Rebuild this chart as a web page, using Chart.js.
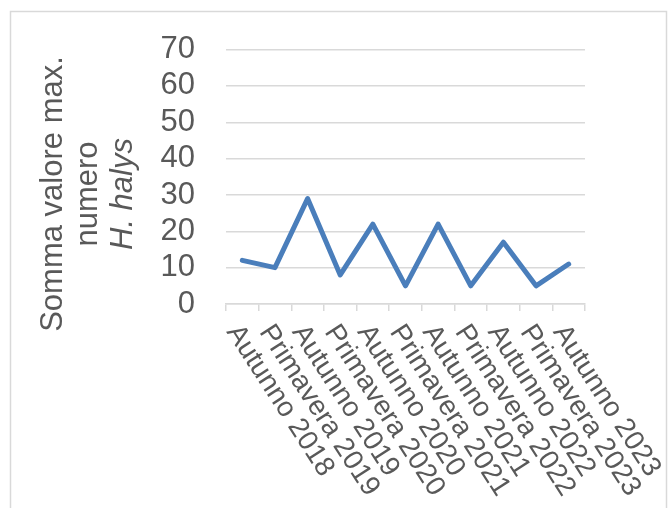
<!DOCTYPE html>
<html>
<head>
<meta charset="utf-8">
<script src="https://cdn.jsdelivr.net/npm/chart.js@4.4.0/dist/chart.umd.min.js"></script>
<style>
  body { margin: 0; background: #fff; }
  canvas { display: block; }
</style>
</head>
<body>
<canvas id="lineChart" width="669" height="508"></canvas>
<script>
const categories = ['Autunno 2018', 'Primavera 2019', 'Autunno 2019', 'Primavera 2020', 'Autunno 2020',
  'Primavera 2021', 'Autunno 2021', 'Primavera 2022', 'Autunno 2022', 'Primavera 2023', 'Autunno 2023'];
const values = [12, 10, 29, 8, 22, 5, 22, 5, 17, 5, 11];
const yTitleLines = ['Somma valore max.', 'numero', 'H. halys'];

const FONT = '"Liberation Sans", Arial, sans-serif';
const TEXT = '#595959';
const GRID = '#d9d9d9';

// outer frame of the chart
const framePlugin = {
  id: 'frame',
  beforeDraw(chart) {
    const ctx = chart.ctx;
    ctx.save();
    ctx.fillStyle = '#fff';
    ctx.fillRect(0, 0, chart.width, chart.height);
    ctx.strokeStyle = GRID;
    ctx.lineWidth = 1.5;
    ctx.strokeRect(10.5, 11.5, 656, 520);
    ctx.restore();
  }
};

// rotated category labels (reading downwards) and the 3-line y title
const labelsPlugin = {
  id: 'labels',
  afterDraw(chart) {
    const ctx = chart.ctx;
    const x = chart.scales.x;
    const angle = 57 * Math.PI / 180;
    ctx.save();
    ctx.fillStyle = TEXT;
    ctx.font = '28px ' + FONT;
    ctx.textAlign = 'left';
    ctx.textBaseline = 'top';
    categories.forEach((lab, i) => {
      const px = x.getPixelForValue(i);
      ctx.save();
      ctx.translate(px + 2, chart.chartArea.bottom + 16);
      ctx.rotate(angle);
      ctx.fillText(lab, 0, 0);
      ctx.restore();
    });

    ctx.textAlign = 'center';
    ctx.textBaseline = 'alphabetic';
    const baselines = [62, 97, 132];
    yTitleLines.forEach((line, i) => {
      ctx.save();
      ctx.translate(baselines[i], 194);
      ctx.rotate(-Math.PI / 2);
      ctx.font = (i === 2 ? 'italic ' : '') + '31px ' + FONT;
      ctx.fillText(line, 0, 0);
      ctx.restore();
    });
    ctx.restore();
  }
};

new Chart(document.getElementById('lineChart'), {
  type: 'line',
  data: {
    labels: categories,
    datasets: [{
      data: values,
      borderColor: '#4a7ebb',
      borderWidth: 5,
      borderCapStyle: 'round',
      borderJoinStyle: 'round',
      pointRadius: 0,
      tension: 0,
      fill: false
    }]
  },
  options: {
    responsive: false,
    animation: false,
    layout: { padding: { left: 0, right: 84, top: 42, bottom: 0 } },
    plugins: {
      legend: { display: false },
      tooltip: { enabled: false }
    },
    scales: {
      x: {
        offset: true,
        grid: {
          offset: true,
          drawOnChartArea: false,
          drawTicks: true,
          tickLength: 7,
          color: GRID,
          lineWidth: 1.5
        },
        border: { display: true, color: GRID, width: 1.5 },
        ticks: { display: false, autoSkip: false },
        afterFit(scale) { scale.height = 508 - 304; }
      },
      y: {
        min: 0,
        max: 70,
        ticks: {
          stepSize: 10,
          autoSkip: false,
          color: TEXT,
          padding: 31,
          font: { family: FONT, size: 31 }
        },
        grid: { color: GRID, lineWidth: 1.5, drawTicks: false },
        border: { display: false },
        afterFit(scale) { scale.width = 226; }
      }
    }
  },
  plugins: [framePlugin, labelsPlugin]
});
</script>
</body>
</html>
